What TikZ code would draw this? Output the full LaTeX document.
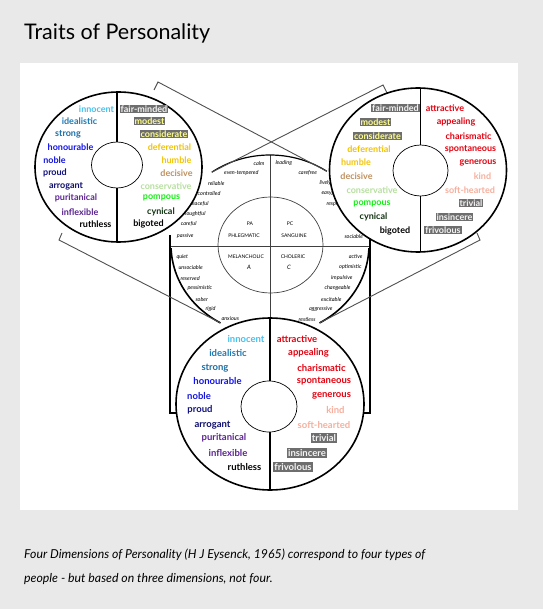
\documentclass[tikz,border=0pt]{standalone}
\usepackage{fontspec}
\setmainfont{Lato}
\usetikzlibrary{calc}
\definecolor{bggray}{HTML}{E9E9E9}
\definecolor{lnk}{HTML}{505050}
\definecolor{cInn}{HTML}{45C0F0}
\definecolor{cIde}{HTML}{1F7AB4}
\definecolor{cStr}{HTML}{1B6EA5}
\definecolor{cHon}{HTML}{1212EE}
\definecolor{cNob}{HTML}{1515DD}
\definecolor{cPro}{HTML}{121280}
\definecolor{cArr}{HTML}{0E0E6E}
\definecolor{cPur}{HTML}{5E2594}
\definecolor{cInf}{HTML}{5A2290}
\definecolor{cDef}{HTML}{F2C200}
\definecolor{cHum}{HTML}{F2C40A}
\definecolor{cDec}{HTML}{C0905E}
\definecolor{cCon}{HTML}{B6DF9E}
\definecolor{cPom}{HTML}{14EE14}
\definecolor{cCyn}{HTML}{123312}
\definecolor{cRed}{HTML}{E4000F}
\definecolor{cSal}{HTML}{F7AE9C}
\definecolor{boxg}{HTML}{6E6E6E}
\definecolor{bxY}{HTML}{FFFF8C}
\definecolor{bxW}{HTML}{F4F4F4}
\newcommand{\trt}[6]{\node[#1, text=#5] (#2) at (#3,#4) {#6};}
\begin{document}
\begin{tikzpicture}[x=1pt,y=-1pt,
  trait/.style={font=\fontsize{9}{10}\selectfont\bfseries, inner sep=0.6pt, anchor=center},
  traitbox/.style={trait, fill=boxg, inner sep=1pt},
  btrait/.style={trait, font=\fontsize{9.5}{10}\selectfont\bfseries},
  btraitbox/.style={btrait, fill=boxg, inner sep=1pt},
  small/.style={font=\fontsize{5.5}{6}\selectfont\itshape, inner sep=0.3pt},
  quad/.style={font=\fontsize{5}{6}\selectfont, inner sep=0.3pt},
  outer/.style={draw=black, line width=1.6pt, fill=white},
  inner/.style={draw=black, line width=0.7pt, fill=white},
  divider/.style={draw=black, line width=1.3pt},
  link/.style={draw=lnk, line width=0.9pt},
  thinline/.style={draw=black!75, line width=0.7pt},
  arcline/.style={draw=black, line width=1.6pt},
  bracket/.style={draw=black, line width=1.4pt}]
\fill[bggray] (0,0) rectangle (543,609);
\fill[white] (20,63) rectangle (518,510);
\useasboundingbox (0,0) rectangle (543,609);
\node[anchor=base west, font=\fontsize{21.5}{24}\selectfont, inner sep=0] (title) at (24,40) {Traits of Personality};
\node[anchor=base west, font=\fontsize{12.3}{14}\selectfont\itshape, inner sep=0] (cap1) at (24,558) {Four Dimensions of Personality (H J Eysenck, 1965) correspond to four types of};
\node[anchor=base west, font=\fontsize{12.3}{14}\selectfont\itshape, inner sep=0] (cap2) at (24,582) {people - but based on three dimensions, not four.};

% ---------- central figure ----------
\coordinate (cc) at (270.5,245);
\coordinate (hl) at (170,246);
\coordinate (hr) at (370,246);
\coordinate (lvt) at (170,235);
\coordinate (rvt) at (370,235);
\coordinate (vt) at (270,155);
\coordinate (vb) at (270,318);
\coordinate (lfoot) at (176,413);
\coordinate (rfoot) at (364,413);
\coordinate (lbot) at (170,413);
\coordinate (rbot) at (370,413);
\coordinate (arcTL) at ({270+99*cos(234)},{245+90*sin(234)});
\coordinate (arcTR) at ({270+99*cos(305)},{245+90*sin(305)});
\coordinate (arcBL) at ({270+99*cos(120)},{245+90*sin(120)});
\coordinate (arcBR) at ({270+99*cos(60)},{245+90*sin(60)});
\draw[thinline] (hl) -- (hr);
\draw[thinline] (vt) -- (vb);
\draw[thinline] (cc) circle [x radius=52.5, y radius=48];
\draw[arcline, line width=1.2pt] plot[domain=234:305, samples=40] ({270+99*cos(\x)},{245+90*sin(\x)});
\draw[arcline] plot[domain=120:178, samples=40] ({270+99*cos(\x)},{245+90*sin(\x)});
\draw[arcline] plot[domain=2:60, samples=40] ({270+99*cos(\x)},{245+90*sin(\x)});
\draw[bracket] (lvt) -- (lbot) -- (lfoot);
\draw[bracket] (rvt) -- (rbot) -- (rfoot);

\node[quad] (qpa) at (250,224) {PA};
\node[quad] (qph) at (244,236) {PHLEGMATIC};
\node[quad] (qpc) at (290,224) {PC};
\node[quad] (qsa) at (294,236) {SANGUINE};
\node[quad] (qme) at (246,257) {MELANCHOLIC};
\node[quad, font=\fontsize{6}{7}\selectfont\itshape] (qa) at (249,267) {A};
\node[quad] (qch) at (293,257) {CHOLERIC};
\node[quad, font=\fontsize{6}{7}\selectfont\itshape] (qc) at (289,267) {C};

% phlegmatic words
\node[small, anchor=east] (w1) at (265,163) {calm};
\node[small, anchor=east] (w2) at (259,173) {even-tempered};
\node[small, anchor=east] (w3) at (225,183) {reliable};
\node[small, anchor=east] (w4) at (221,193) {controlled};
\node[small, anchor=east] (w5) at (209,204) {peaceful};
\node[small, anchor=east] (w6) at (206,214) {thoughtful};
\node[small, anchor=east] (w7) at (197,224) {careful};
\node[small, anchor=east] (w8) at (194,236) {passive};
% sanguine words
\node[small, anchor=west] (s1) at (275,163) {leading};
\node[small, anchor=west] (s2) at (298,173) {carefree};
\node[small, anchor=west] (s3) at (319,183) {lively};
\node[small, anchor=west] (s4) at (321,193) {easygoing};
\node[small, anchor=west] (s5) at (326,204) {responsive};
\node[small, anchor=west] (s6) at (344,236) {sociable};
% melancholic words
\node[small, anchor=west] (m1) at (176,257) {quiet};
\node[small, anchor=west] (m2) at (178,267) {unsociable};
\node[small, anchor=west] (m3) at (180,278) {reserved};
\node[small, anchor=west] (m4) at (187,288) {pessimistic};
\node[small, anchor=west] (m5) at (195,299) {sober};
\node[small, anchor=west] (m6) at (205,309) {rigid};
\node[small, anchor=west] (m7) at (221,319) {anxious};
% choleric words
\node[small, anchor=east] (c1) at (363,257) {active};
\node[small, anchor=east] (c2) at (362,267) {optimistic};
\node[small, anchor=east] (c3) at (353,278) {impulsive};
\node[small, anchor=east] (c4) at (351,288) {changeable};
\node[small, anchor=east] (c5) at (342,299) {excitable};
\node[small, anchor=east] (c6) at (333,309) {aggressive};
\node[small, anchor=east] (c7) at (316,319) {restless};

% ---------- connectors ----------
\coordinate (tlA) at (158,82);  \coordinate (tlT) at (154,90);
\coordinate (trA) at (383,85);  \coordinate (trT) at (387,93);
\coordinate (blA) at (59,240);  \coordinate (blT) at (62,233);
\coordinate (brA) at (480,240); \coordinate (brT) at (477,233);
\draw[link] (tlT) -- (tlA) -- (arcTR);
\draw[link] (trT) -- (trA) -- (arcTL);
\draw[link] (blT) -- (blA) -- (arcBL);
\draw[link] (brT) -- (brA) -- (arcBR);

% ---------- left circle ----------
\coordinate (Lc) at (118.5,167);
\coordinate (Li) at (117,165);
\coordinate (Lt) at (117,92);
\coordinate (Lb) at (117,242);
\path[outer] (Lc) circle [x radius=83.5, y radius=75];
\draw[divider] (Lt) -- (Lb);
\path[inner] (Li) circle [x radius=25.5, y radius=23];
\trt{trait}{La1}{96.5}{109}{cInn}{innocent}
\trt{trait}{La2}{79.5}{121}{cIde}{idealistic}
\trt{trait}{La3}{68}{134}{cStr}{strong}
\trt{trait}{La4}{70.5}{147}{cHon}{honourable}
\trt{trait}{La5}{54.5}{160}{cNob}{noble}
\trt{trait}{La6}{55}{173}{cPro}{proud}
\trt{trait}{La7}{66}{186}{cArr}{arrogant}
\trt{trait}{La8}{76}{198}{cPur}{puritanical}
\trt{trait}{La9}{80}{212}{cInf}{inflexible}
\trt{trait}{La10}{95.5}{224}{black}{ruthless}
\trt{traitbox}{Lb1}{144}{109}{bxW}{fair-minded}
\trt{traitbox}{Lb2}{149.5}{121}{bxY}{modest}
\trt{traitbox}{Lb3}{164}{134}{bxY}{considerate}
\trt{trait}{Lb4}{169.5}{147}{cDef}{deferential}
\trt{trait}{Lb5}{176.5}{160}{cHum}{humble}
\trt{trait}{Lb6}{176.5}{173}{cDec}{decisive}
\trt{trait}{Lb7}{166}{186}{cCon}{conservative}
\trt{trait}{Lb8}{161.5}{198}{cPom}{pompous}
\trt{trait}{Lb9}{161}{212}{cCyn}{cynical}
\trt{trait}{Lb10}{148.5}{224}{black}{bigoted}

% ---------- right circle ----------
\coordinate (Rc) at (418,170);
\coordinate (Ri) at (420.5,170.5);
\coordinate (Rt) at (420.5,88);
\coordinate (Rb) at (420.5,252);
\path[outer] (Rc) circle [x radius=88.5, y radius=82];
\draw[divider] (Rt) -- (Rb);
\path[inner] (Ri) circle [x radius=27.5, y radius=25.5];
\trt{traitbox}{Ra1}{395.5}{108}{bxW}{fair-minded}
\trt{traitbox}{Ra2}{375.5}{122}{bxY}{modest}
\trt{traitbox}{Ra3}{377.5}{136}{bxY}{considerate}
\trt{trait}{Ra4}{369}{149}{cDef}{deferential}
\trt{trait}{Ra5}{356}{162}{cHum}{humble}
\trt{trait}{Ra6}{356.5}{176}{cDec}{decisive}
\trt{trait}{Ra7}{372}{190}{cCon}{conservative}
\trt{trait}{Ra8}{372}{204}{cPom}{pompous}
\trt{trait}{Ra9}{373.5}{217}{cCyn}{cynical}
\trt{trait}{Ra10}{395}{231}{black}{bigoted}
\trt{trait}{Rb1}{445}{108}{cRed}{attractive}
\trt{trait}{Rb2}{456}{122}{cRed}{appealing}
\trt{trait}{Rb3}{468.5}{136}{cRed}{charismatic}
\trt{trait}{Rb4}{470.5}{149}{cRed}{spontaneous}
\trt{trait}{Rb5}{478}{163}{cRed}{generous}
\trt{trait}{Rb6}{482.5}{176}{cSal}{kind}
\trt{trait}{Rb7}{470}{190}{cSal}{soft-hearted}
\trt{traitbox}{Rb8}{471}{203}{bxW}{trivial}
\trt{traitbox}{Rb9}{454.5}{217}{bxW}{insincere}
\trt{traitbox}{Rb10}{443}{230}{bxW}{frivolous}

% ---------- bottom circle ----------
\coordinate (Bc) at (270,404);
\coordinate (Bi) at (269,406.5);
\coordinate (Bt) at (270,318);
\coordinate (Bb) at (270,490);
\path[outer] (Bc) circle [x radius=94, y radius=86];
\draw[divider] (Bt) -- (Bb);
\path[inner] (Bi) circle [x radius=28, y radius=25.5];
\trt{btrait}{Ba1}{246}{339}{cInn}{innocent}
\trt{btrait}{Ba2}{228}{353}{cIde}{idealistic}
\trt{btrait}{Ba3}{215}{368}{cStr}{strong}
\trt{btrait}{Ba4}{217.5}{381}{cHon}{honourable}
\trt{btrait}{Ba5}{199}{396}{cNob}{noble}
\trt{btrait}{Ba6}{200}{410}{cPro}{proud}
\trt{btrait}{Ba7}{212.5}{425}{cArr}{arrogant}
\trt{btrait}{Ba8}{224}{438}{cPur}{puritanical}
\trt{btrait}{Ba9}{228}{453}{cInf}{inflexible}
\trt{btrait}{Ba10}{244.5}{467}{black}{ruthless}
\trt{btrait}{Bb1}{297}{339}{cRed}{attractive}
\trt{btrait}{Bb2}{308.5}{353}{cRed}{appealing}
\trt{btrait}{Bb3}{321.5}{368}{cRed}{charismatic}
\trt{btrait}{Bb4}{324}{381}{cRed}{spontaneous}
\trt{btrait}{Bb5}{331.5}{396}{cRed}{generous}
\trt{btrait}{Bb6}{335.5}{410}{cSal}{kind}
\trt{btrait}{Bb7}{324}{425}{cSal}{soft-hearted}
\trt{btraitbox}{Bb8}{324}{438}{bxW}{trivial}
\trt{btraitbox}{Bb9}{307}{453}{bxW}{insincere}
\trt{btraitbox}{Bb10}{293}{467}{bxW}{frivolous}
\end{tikzpicture}
\end{document}
